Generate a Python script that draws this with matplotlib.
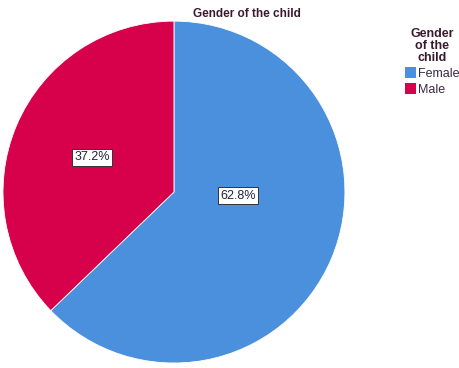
import matplotlib.pyplot as plt
from matplotlib.patches import Patch

plt.rcParams['font.family'] = ['Liberation Sans', 'DejaVu Sans']

categories = ["Female", "Male"]
shares = [62.8, 37.2]
colors = ["#4a90dc", "#d6004b"]
# label spots (data coords, pie radius 1)
label_spots = [(0.374, -0.023), (-0.48, 0.205)]

fig = plt.figure(figsize=(4.59, 3.68), dpi=100)
ax = fig.add_axes([0.0065, 0.0136, 0.745, 0.929])

wedges, texts, autotexts = ax.pie(
    shares, colors=colors, startangle=90, counterclock=False,
    autopct="%.1f%%", pctdistance=0.52,
    wedgeprops=dict(edgecolor="white", linewidth=0.6),
    textprops=dict(fontsize=9, color="#222244"))
for t, pos in zip(autotexts, label_spots):
    t.set_position(pos)
    t.set_bbox(dict(boxstyle="square,pad=0.2", facecolor="white",
                    edgecolor="#333333", linewidth=0.7))
ax.set_xlim(-1, 1)
ax.set_ylim(-1, 1)
ax.set_aspect("auto")

fig.text(0.538, 0.962, "Gender of the child", ha="center", va="center",
         fontsize=8.5, fontweight="bold", color="#3a1a2e")

handles = [Patch(facecolor=c, edgecolor="none") for c in colors]
leg = fig.legend(handles, categories, title="Gender\nof the\nchild",
                 loc="upper left", bbox_to_anchor=(0.882, 0.925),
                 frameon=False, fontsize=9, handlelength=0.9,
                 handleheight=1.0, handletextpad=0.15, labelspacing=0.25,
                 borderpad=0, borderaxespad=0)
leg.get_title().set_fontweight("bold")
leg.get_title().set_fontsize(9)
leg.get_title().set_color("#3a1a2e")
leg.get_title().set_multialignment("center")
leg.get_title().set_linespacing(1.0)
for t in leg.get_texts():
    t.set_color("#3a2a44")

fig.savefig("out.png", dpi=100)
